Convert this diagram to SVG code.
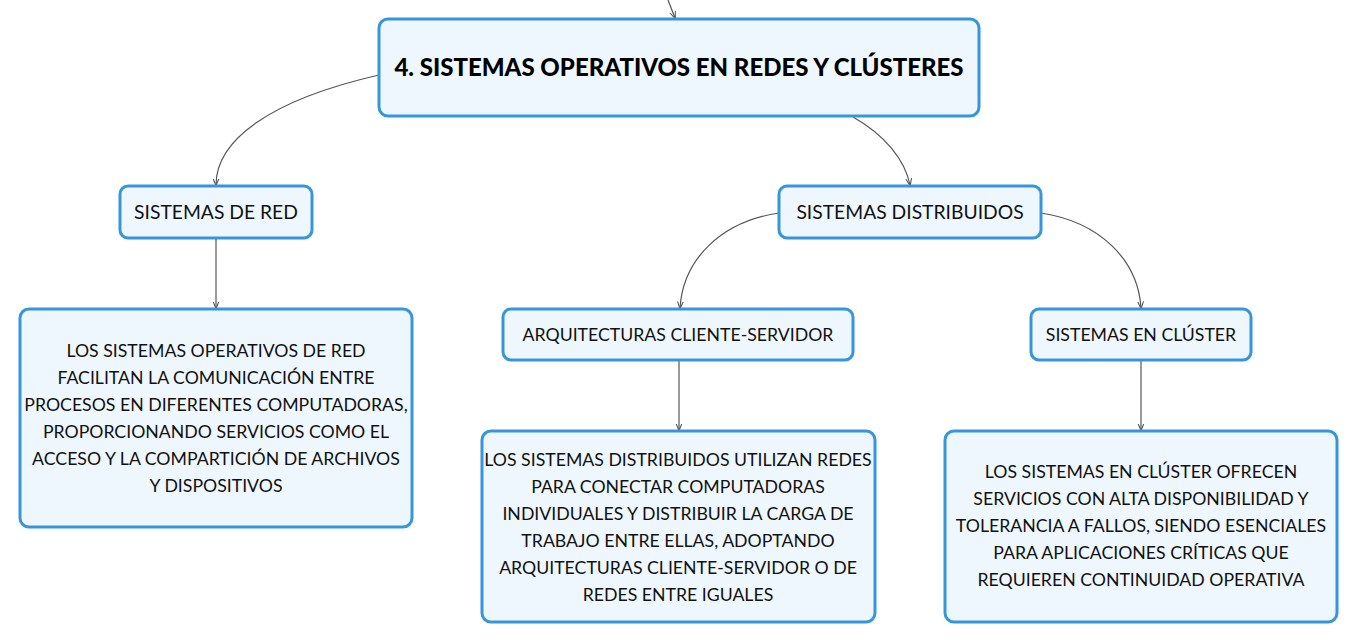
<svg xmlns="http://www.w3.org/2000/svg" width="1359" height="643" viewBox="0 0 1359 643">
<defs>
<style>
.box{fill:#eef7fd;stroke:#3795dd;stroke-width:3}
.t{font-family:Lato,"Noto Sans",sans-serif;font-size:17.7px;fill:#111;text-anchor:middle}
.l{font-family:Lato,"Noto Sans",sans-serif;font-size:19.3px;fill:#111;text-anchor:middle}
.title{font-family:Lato,"Noto Sans",sans-serif;font-size:24px;font-weight:900;fill:#000;text-anchor:middle}
.c{fill:none;stroke:#555;stroke-width:1.2;marker-end:url(#a)}
</style>
<marker id="a" viewBox="0 0 10 10" refX="9" refY="5" markerWidth="6" markerHeight="6" orient="auto">
<path d="M0,1 L10,5 L0,9" fill="none" stroke="#555" stroke-width="1.5"/>
</marker>
</defs>
<rect width="1359" height="643" fill="#fff"/>
<g id="connectors">
<path class="c" d="M668,0 L675,18"/>
<path class="c" d="M379,75 C270,100 216,140 216,185"/>
<path class="c" d="M853,117 C885,135 905,160 910,185"/>
<path class="c" d="M216,238 L216,308"/>
<path class="c" d="M779,213 C720,222 683,260 680,308"/>
<path class="c" d="M1041,213 C1100,222 1138,260 1141,308"/>
<path class="c" d="M679,360 L679,430"/>
<path class="c" d="M1141,360 L1141,430"/>
</g>
<g id="root">
<rect class="box" x="379" y="19" width="600" height="97" rx="9"/>
<text class="title" x="679" y="75.5">4. SISTEMAS OPERATIVOS EN REDES Y CLÚSTERES</text>
</g>
<g id="sistemas-red">
<rect class="box" x="120" y="186" width="192" height="52" rx="8"/>
<text class="l" x="216" y="219">SISTEMAS DE RED</text>
</g>
<g id="sistemas-distribuidos">
<rect class="box" x="779" y="186" width="262" height="52" rx="8"/>
<text class="l" x="910" y="219">SISTEMAS DISTRIBUIDOS</text>
</g>
<g id="red-desc">
<rect class="box" x="20" y="309" width="392" height="218" rx="9"/>
<text class="t" x="216" y="356.5">LOS SISTEMAS OPERATIVOS DE RED</text>
<text class="t" x="216" y="383.5">FACILITAN LA COMUNICACIÓN ENTRE</text>
<text class="t" x="216" y="410.5">PROCESOS EN DIFERENTES COMPUTADORAS,</text>
<text class="t" x="216" y="437.5">PROPORCIONANDO SERVICIOS COMO EL</text>
<text class="t" x="216" y="464.5">ACCESO Y LA COMPARTICIÓN DE ARCHIVOS</text>
<text class="t" x="216" y="491.5">Y DISPOSITIVOS</text>
</g>
<g id="cliente-servidor">
<rect class="box" x="503" y="309" width="350" height="51" rx="8"/>
<text class="t" x="678" y="340.5">ARQUITECTURAS CLIENTE-SERVIDOR</text>
</g>
<g id="cluster">
<rect class="box" x="1031" y="309" width="220" height="51" rx="8"/>
<text class="t" x="1141" y="340.5">SISTEMAS EN CLÚSTER</text>
</g>
<g id="distribuidos-desc">
<rect class="box" x="482" y="431" width="393" height="191" rx="9"/>
<text class="t" x="678" y="465.5">LOS SISTEMAS DISTRIBUIDOS UTILIZAN REDES</text>
<text class="t" x="678" y="492.5">PARA CONECTAR COMPUTADORAS</text>
<text class="t" x="678" y="519.5">INDIVIDUALES Y DISTRIBUIR LA CARGA DE</text>
<text class="t" x="678" y="546.5">TRABAJO ENTRE ELLAS, ADOPTANDO</text>
<text class="t" x="678" y="573.5">ARQUITECTURAS CLIENTE-SERVIDOR O DE</text>
<text class="t" x="678" y="600.5">REDES ENTRE IGUALES</text>
</g>
<g id="cluster-desc">
<rect class="box" x="945" y="431" width="392" height="191" rx="9"/>
<text class="t" x="1141" y="477.5">LOS SISTEMAS EN CLÚSTER OFRECEN</text>
<text class="t" x="1141" y="504.5">SERVICIOS CON ALTA DISPONIBILIDAD Y</text>
<text class="t" x="1141" y="531.5">TOLERANCIA A FALLOS, SIENDO ESENCIALES</text>
<text class="t" x="1141" y="558.5">PARA APLICACIONES CRÍTICAS QUE</text>
<text class="t" x="1141" y="585.5">REQUIEREN CONTINUIDAD OPERATIVA</text>
</g>
</svg>
